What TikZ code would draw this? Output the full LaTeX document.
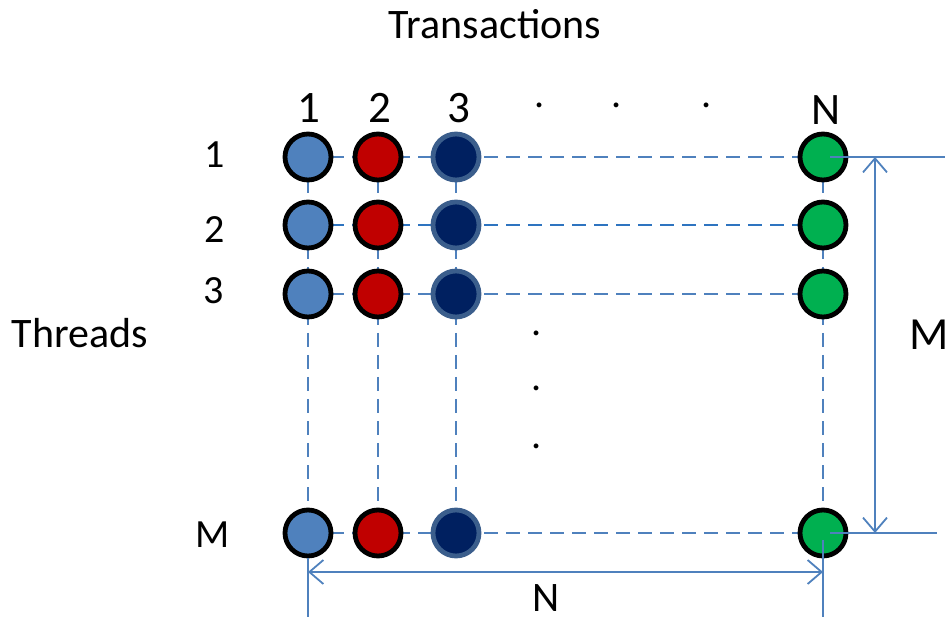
\documentclass[tikz,border=0pt]{standalone}
\usepackage{fontspec}
\setmainfont{Carlito}
\usetikzlibrary{arrows.meta}
\definecolor{lineblue}{HTML}{4F81BD}
\definecolor{rowblue}{HTML}{2E74C0}
\definecolor{ballblue}{HTML}{4F81BD}
\definecolor{ballred}{HTML}{C00000}
\definecolor{ballnavy}{HTML}{002060}
\definecolor{navyrim}{HTML}{3B5E8C}
\definecolor{ballgreen}{HTML}{00B050}
\begin{document}
\begin{tikzpicture}[x=1pt,y=-1pt,
  ball/.style={circle,minimum size=46pt,inner sep=0pt,line width=4.8pt,draw=black},
  blueball/.style={ball,fill=ballblue},
  redball/.style={ball,fill=ballred},
  navyball/.style={ball,fill=ballnavy,draw=navyrim},
  greenball/.style={ball,fill=ballgreen},
  grid/.style={draw=lineblue,line width=1.8pt,dash pattern=on 14pt off 8pt},
  dim/.style={draw=lineblue,line width=1.8pt},
  dimarrow/.style={dim,{Straight Barb[length=14pt,width=24pt,line width=1.8pt]}-{Straight Barb[length=14pt,width=24pt,line width=1.8pt]}},
  big/.style={font=\fontsize{42}{50}\selectfont},
  lbl/.style={font=\fontsize{40}{48}\selectfont},
  hdr/.style={font=\fontsize{45}{54}\selectfont}]
\useasboundingbox (0,0) rectangle (945,617);

% column positions 308, 378, 456, 823; row positions 157, 225, 294, 533
\foreach \r/\y in {1/157,2/225,3/294,M/533}{
  \coordinate (c1\r) at (308,\y);
  \coordinate (c2\r) at (378,\y);
  \coordinate (c3\r) at (456,\y);
  \coordinate (cN\r) at (823,\y);
}

% grid lines behind the balls
\path[grid] (c11) -- (c1M);
\path[grid] (c21) -- (c2M);
\path[grid] (c31) -- (c3M);
\path[grid] (cN1) -- (cNM);
\path[grid] (c11) -- (cN1);
\path[grid,draw=rowblue] (c12) -- (cN2);
\path[grid] (c13) -- (cN3);
\path[grid] (c1M) -- (cNM);

% balls
\foreach \r in {1,2,3,M}{
  \node[blueball] (b1\r) at (c1\r) {};
  \node[redball] (b2\r) at (c2\r) {};
  \node[navyball] (b3\r) at (c3\r) {};
  \node[greenball] (bN\r) at (cN\r) {};
}

% dimension lines
\coordinate (eTop) at (945,157);
\coordinate (eBot) at (937,533);
\coordinate (eL) at (308,617);
\coordinate (eR) at (823,617);
\coordinate (mTop) at (875,157);
\coordinate (mBot) at (875,533);
\coordinate (nL) at (308,572);
\coordinate (nR) at (823,572);
\draw[dim] (bN1.center) ++(7,0) -- (eTop);
\draw[dim] (bNM.center) ++(7,0) -- (eBot);
\draw[dim] (b1M.south) -- (eL);
\draw[dim] (bNM.center) ++(0,7) -- (eR);
\draw[dimarrow] (mTop) -- (mBot);
\draw[dimarrow] (nL) -- (nR);

% labels
\node[big] (title) at (495,24) {Transactions};
\node[big] (threads) at (80,333) {Threads};
\node[font=\fontsize{46}{55}\selectfont,anchor=west,inner sep=0pt] (mlabel) at (909,335) {M};
\node[big] (nlabel) at (546,598) {N};

\node[hdr] (h1) at (309,108) {1};
\node[hdr] (h2) at (380,108) {2};
\node[hdr] (h3) at (459,108) {3};
\node[hdr] (hN) at (826,110) {N};
\foreach \x/\n in {540/d1,617/d2,707/d3}
  \node[lbl] (\n) at (\x,105) {.};

\node[lbl] (r1) at (215,155) {1};
\node[lbl] (r2) at (215,230) {2};
\node[lbl] (r3) at (214,291) {3};
\node[lbl] (rM) at (213,535) {M};
\foreach \y/\n in {333/v1,388/v2,446/v3}
  \node[lbl] (\n) at (537,\y) {.};
\end{tikzpicture}
\end{document}
